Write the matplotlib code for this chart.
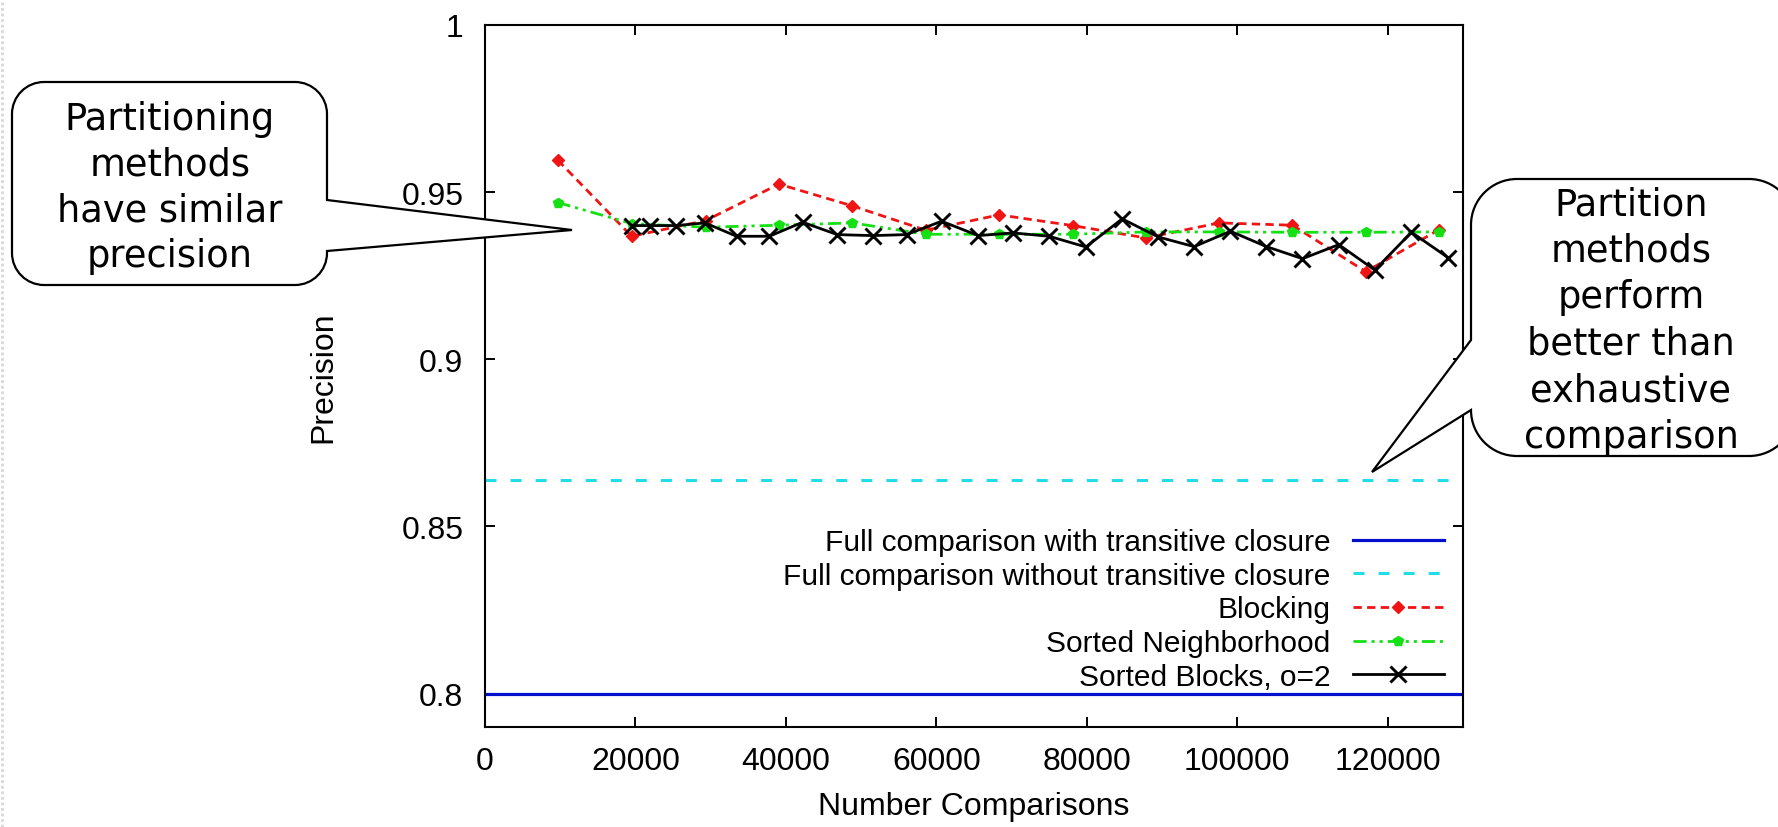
import matplotlib
matplotlib.use("Agg")
import matplotlib.pyplot as plt
import matplotlib.transforms as mtransforms
from matplotlib.path import Path
from matplotlib.patches import PathPatch
from matplotlib.lines import Line2D

# ---------------- data ----------------
x_blocking = [9660, 19490, 29330, 39070, 48810, 58600, 68350, 78100, 87840,
              97590, 107330, 117080, 126820]
y_blocking = [0.9596, 0.9368, 0.9415, 0.9524, 0.9459, 0.9386, 0.9432, 0.9400,
              0.9363, 0.9408, 0.9401, 0.9262, 0.9388]

x_sorted_nb = [9660, 19490, 29330, 39070, 48810, 58600, 68350, 78100, 87840,
               97590, 107330, 117080, 126820]
y_sorted_nb = [0.9469, 0.9406, 0.9395, 0.9401, 0.9408, 0.9374, 0.9374, 0.9374,
               0.9381, 0.9381, 0.9380, 0.9380, 0.9381]

x_sorted_blocks = [19490, 21930, 25380, 29240, 33440, 37790, 42220, 46820, 51520,
                   56040, 60690, 65560, 70210, 74990, 79870, 84700, 89480, 94260,
                   99090, 103880, 108660, 113490, 118270, 123150, 128020]
y_sorted_blocks = [0.9400, 0.9400, 0.9400, 0.9408, 0.9368, 0.9368, 0.9410, 0.9373,
                   0.9370, 0.9373, 0.9413, 0.9370, 0.9378, 0.9368, 0.9336, 0.9420,
                   0.9366, 0.9337, 0.9383, 0.9337, 0.9301, 0.9343, 0.9267, 0.9380,
                   0.9304]

full_with_tc = 0.800
full_without_tc = 0.864

series_labels = ["Full comparison with transitive closure",
                 "Full comparison without transitive closure",
                 "Blocking", "Sorted Neighborhood", "Sorted Blocks, o=2"]

x_ticks = [0, 20000, 40000, 60000, 80000, 100000, 120000]
x_tick_labels = ["0", "20000", "40000", "60000", "80000", "100000", "120000"]
y_ticks = [0.8, 0.85, 0.9, 0.95, 1.0]
y_tick_labels = ["0.8", "0.85", "0.9", "0.95", "1"]

callout_left_text = "Partitioning\nmethods\nhave similar\nprecision"
callout_right_text = "Partition\nmethods\nperform\nbetter than\nexhaustive\ncomparison"

# ---------------- figure ----------------
W, H = 1778, 828
plt.rcParams["font.family"] = ["Liberation Sans", "DejaVu Sans"]
fig = plt.figure(figsize=(W / 100, H / 100), dpi=100)
fig.patch.set_facecolor("white")

ax_l, ax_r, ax_t, ax_b = 485, 1463, 26, 728
ax = fig.add_axes([ax_l / W, 1 - ax_b / H, (ax_r - ax_l) / W, (ax_b - ax_t) / H])

ax.axhline(full_with_tc, color="#0010CC", lw=2.3, label=series_labels[0], zorder=2)
ax.axhline(full_without_tc, color="#22DDE6", lw=2.2, dashes=(3.6, 4.6),
           label=series_labels[1], zorder=2)
ax.plot(x_blocking, y_blocking, color="#F01414", lw=2.0, dashes=(3.0, 1.9),
        marker="D", ms=5.8, label=series_labels[2], zorder=3)
ax.plot(x_sorted_nb, y_sorted_nb, color="#14E014", lw=2.0,
        dashes=(4.7, 1.8, 1.1, 1.8, 1.1, 1.8),
        marker="p", ms=7.5, label=series_labels[3], zorder=3)
ax.plot(x_sorted_blocks, y_sorted_blocks, color="black", lw=2.0,
        marker="x", ms=11, mew=2.1, label=series_labels[4], zorder=4)

ax.set_xlim(0, 130000)
ax.set_ylim(0.79, 1.0)
ax.set_xticks(x_ticks)
ax.set_xticklabels(x_tick_labels)
ax.set_yticks(y_ticks)
ax.set_yticklabels(y_tick_labels)
ax.minorticks_off()
ax.tick_params(axis="both", direction="in", length=7.5, width=1.4,
               top=True, right=True, labelsize=23, colors="black")
ax.tick_params(axis="y", pad=15.5)
ax.tick_params(axis="x", pad=14)
for sp in ax.spines.values():
    sp.set_linewidth(1.5)
    sp.set_color("black")

# axis titles
fig.text(974 / W, 1 - 807 / H, "Number Comparisons", ha="center", va="center",
         fontsize=23)
fig.text(323 / W, 1 - 377 / H, "Precision", ha="center", va="center",
         rotation=90, fontsize=23)

# legend (right-aligned text, samples on the right)
leg = ax.legend(loc="upper right", bbox_to_anchor=(1444 / W, 1 - 529 / H),
                bbox_transform=fig.transFigure, frameon=False, markerfirst=False,
                fontsize=21.5, handlelength=3.05, handletextpad=0.75,
                labelspacing=0.19, borderpad=0, borderaxespad=0, numpoints=1)

# ---------------- callouts ----------------
pix = mtransforms.Affine2D().scale(1 / W, -1 / H).translate(0, 1) + fig.transFigure


def callout_path(x0, y0, x1, y1, r, side, a1, a2, tip):
    k = 0.5523 * r
    verts, codes = [], []

    def M(p):
        verts.append(p); codes.append(Path.MOVETO)

    def L(p):
        verts.append(p); codes.append(Path.LINETO)

    def C(c1, c2, p):
        verts.extend([c1, c2, p]); codes.extend([Path.CURVE4] * 3)

    M((x0 + r, y0))
    L((x1 - r, y0))
    C((x1 - r + k, y0), (x1, y0 + r - k), (x1, y0 + r))
    if side == "right":
        L((x1, a1)); L(tip); L((x1, a2))
    L((x1, y1 - r))
    C((x1, y1 - r + k), (x1 - r + k, y1), (x1 - r, y1))
    L((x0 + r, y1))
    C((x0 + r - k, y1), (x0, y1 - r + k), (x0, y1 - r))
    if side == "left":
        L((x0, a2)); L(tip); L((x0, a1))
    L((x0, y0 + r))
    C((x0, y0 + r - k), (x0 + r - k, y0), (x0 + r, y0))
    verts.append((x0 + r, y0)); codes.append(Path.CLOSEPOLY)
    return Path(verts, codes)


p1 = callout_path(12, 83, 327, 286, 32, "right", 201, 252, (572, 231))
fig.add_artist(PathPatch(p1, transform=pix, facecolor="white", edgecolor="black",
                         lw=1.6, zorder=10))
fig.text(170 / W, 1 - 188 / H, callout_left_text, ha="center", va="center",
         fontsize=26.5, family="DejaVu Sans", linespacing=1.29, zorder=11)

p2 = callout_path(1471, 180, 1795, 457, 46, "left", 341, 411, (1372, 473))
fig.add_artist(PathPatch(p2, transform=pix, facecolor="white", edgecolor="black",
                         lw=1.6, zorder=10))
fig.text(1631 / W, 1 - 321 / H, callout_right_text, ha="center", va="center",
         fontsize=26.5, family="DejaVu Sans", linespacing=1.33, zorder=11)

# faint dotted strip at the left edge of the slide
fig.add_artist(Line2D([2 / W, 2 / W], [0, 1], transform=fig.transFigure,
                      color="#d8d8d8", lw=2, ls=(0, (1, 1)), zorder=1))

fig.savefig("out.png", dpi=100, facecolor="white")
